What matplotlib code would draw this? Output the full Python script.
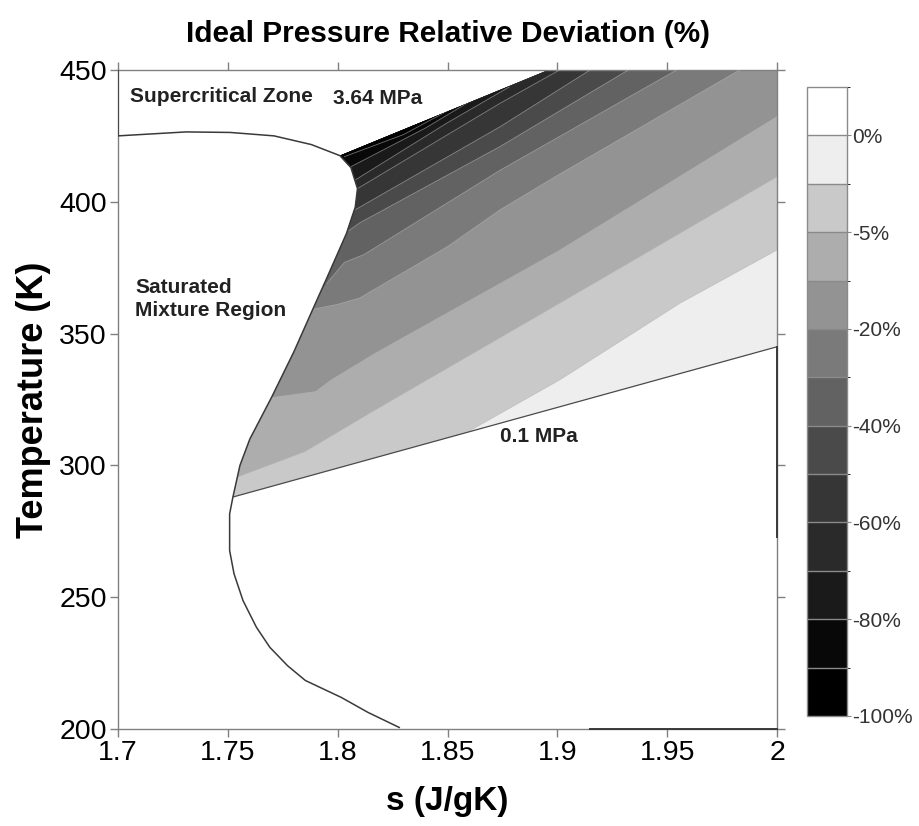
import numpy as np
import matplotlib
matplotlib.use('Agg')
import matplotlib.pyplot as plt
from matplotlib.colors import ListedColormap, BoundaryNorm
from matplotlib.patches import Polygon
from matplotlib.cm import ScalarMappable

# ----------------------------------------------------------------------
# data
# ----------------------------------------------------------------------
S_TICKS = [1.7, 1.75, 1.8, 1.85, 1.9, 1.95, 2.0]
S_TICK_LABELS = ['1.7', '1.75', '1.8', '1.85', '1.9', '1.95', '2']
T_TICKS = [200, 250, 300, 350, 400, 450]

# contour levels (%) and grey of each band, darkest first
LEVELS = [-100, -90, -80, -70, -60, -50, -40, -30, -20, -10, -5, -2, 0, 5]
BAND_COLORS = ['#000000', '#080808', '#1a1a1a', '#2a2a2a', '#363636',
               '#4a4a4a', '#626262', '#7a7a7a', '#939393', '#adadad',
               '#c9c9c9', '#eeeeee', '#ffffff']
CBAR_TICKS = [0, -5, -20, -40, -60, -80, -100]

# saturation dome (s, T)
DOME_S = [1.828, 1.8138, 1.8016, 1.7853, 1.7772, 1.7691, 1.763, 1.7569,
          1.7528, 1.7508, 1.7508, 1.7523, 1.7555, 1.760, 1.770, 1.780,
          1.788, 1.795, 1.804, 1.808, 1.809, 1.806, 1.801, 1.788, 1.771,
          1.751, 1.731, 1.700, 1.700]
DOME_T = [200.6, 206.3, 212.0, 218.4, 224.0, 231.0, 238.6, 248.7,
          258.9, 267.7, 281.6, 288.0, 300.0, 310.0, 326.0, 343.0,
          358.0, 371.0, 388.0, 398.0, 405.0, 413.0, 417.5, 421.7, 425.0,
          426.3, 426.5, 425.0, 450.0]

# isobars
P01_S = [1.7523, 2.0]            # 0.1 MPa
P01_T = [288.0, 345.0]
P364_S = [1.801, 1.8405, 1.896]  # 3.64 MPa
P364_T = [417.5, 431.0, 450.0]

# short edge segments drawn in the original
EDGE_R_S = [2.0, 2.0]
EDGE_R_T = [272.8, 345.0]
EDGE_B_S = [1.915, 2.0]
EDGE_B_T = [200.0, 200.0]

# contour lines (s, T), one per level from -2 % down to -90 %
LINE_M2 = [(1.860, 313.1), (1.901, 332.4), (1.956, 361.6), (2.0, 381.7)]
LINE_M5 = [(1.753, 295.2), (1.785, 305.2), (1.817, 321.0), (1.901, 361.5),
           (2.0, 409.5)]
LINE_M10 = [(1.768, 325.5), (1.790, 328.0), (1.797, 332.4), (1.817, 342.5),
            (1.901, 381.6), (2.0, 432.3)]
LINE_M20 = [(1.785, 358.6), (1.800, 361.1), (1.810, 363.5), (1.850, 383.0),
            (1.874, 397.0), (1.900, 410.0), (1.983, 450.0)]
LINE_M30 = [(1.795, 369.0), (1.803, 377.0), (1.812, 380.0), (1.874, 412.0),
            (1.9543, 450.0)]
LINE_M40 = [(1.805, 389.0), (1.810, 392.0), (1.874, 421.0), (1.9323, 450.0)]
LINE_M50 = [(1.808, 397.0), (1.874, 428.5), (1.9149, 450.0)]
LINE_M60 = [(1.808, 404.5), (1.874, 437.4), (1.901, 450.0)]
LINE_M70 = [(1.808, 408.3), (1.850, 430.0), (1.878, 443.5)]
LINE_M80 = [(1.806, 413.3), (1.840, 428.0), (1.862, 439.0)]
LINE_M90 = [(1.803, 417.1), (1.830, 425.5), (1.850, 434.5)]

CONTOUR_LINES = [LINE_M2, LINE_M5, LINE_M10, LINE_M20, LINE_M30, LINE_M40,
                 LINE_M50, LINE_M60, LINE_M70, LINE_M80, LINE_M90]
LINE_LEVELS = [-2, -5, -10, -20, -30, -40, -50, -60, -70, -80, -90]

# ----------------------------------------------------------------------
plt.rcParams['font.family'] = ['Liberation Sans', 'DejaVu Sans']

cmap = ListedColormap(BAND_COLORS)
norm = BoundaryNorm(LEVELS, cmap.N)

fig = plt.figure(figsize=(9.2, 8.26), dpi=100)
ax = fig.add_axes([0.1283, 0.1174, 0.7163, 0.7979])
cax = fig.add_axes([0.8772, 0.1332, 0.0435, 0.7615])

# superheated vapour region, bounded by dome, both isobars and the frame
i0 = DOME_T.index(288.0)
i1 = DOME_T.index(417.5)
region = list(zip(DOME_S[i0:i1 + 1], DOME_T[i0:i1 + 1]))
region += list(zip(P364_S[1:], P364_T[1:]))
region += [(2.0, 450.0), (P01_S[1], P01_T[1])]
clip = Polygon(region, closed=True, facecolor='none', edgecolor='none')
ax.add_patch(clip)


def band_color(lo, hi):
    return cmap(norm(0.5 * (lo + hi)))


base = Polygon(region, closed=True, facecolor=band_color(-2, 0),
               edgecolor='none', zorder=1)
ax.add_patch(base)

# each level: paint its darker (upper-left) side, lightest level first
for k, (line, lev) in enumerate(zip(CONTOUR_LINES, LINE_LEVELS)):
    j = LEVELS.index(lev)
    col = band_color(LEVELS[j - 1], lev)
    pts = list(line) + [(line[-1][0], 480.0), (1.6, 480.0), (1.6, 200.0)]
    p = Polygon(pts, closed=True, facecolor=col, edgecolor='none',
                zorder=2 + k * 0.01)
    ax.add_patch(p)
    p.set_clip_path(clip)
    ls, lt = zip(*line)
    ln, = ax.plot(ls, lt, color='#b4b4b4', lw=0.6, alpha=0.6, zorder=3)
    ln.set_clip_path(clip)

ax.plot(DOME_S, DOME_T, color='#3a3a3a', lw=1.1, zorder=5)
ax.plot(P01_S, P01_T, color='#4a4a4a', lw=0.9, zorder=5)
ax.plot(EDGE_R_S, EDGE_R_T, color='#3a3a3a', lw=1.4, zorder=5, clip_on=False)
ax.plot(EDGE_B_S, EDGE_B_T, color='#3a3a3a', lw=1.4, zorder=5, clip_on=False)

ax.set_xlim(1.7, 2.0)
ax.set_ylim(200, 450)
ax.set_xticks(S_TICKS)
ax.set_xticklabels(S_TICK_LABELS)
ax.set_yticks(T_TICKS)
ax.tick_params(direction='out', length=6, width=1, color='#808080',
               labelsize=20.5, top=True, right=True, pad=2)
for sp in ax.spines.values():
    sp.set_color('#808080')
    sp.set_linewidth(1.0)

ax.set_xlabel('s (J/gK)', fontsize=24, fontweight='bold', labelpad=14)
ax.set_ylabel('Temperature (K)', fontsize=26, fontweight='bold', labelpad=6)
ax.set_title('Ideal Pressure Relative Deviation (%)', fontsize=21.5,
             fontweight='bold', pad=20)

txt = dict(fontsize=15, fontweight='bold', color='#222222')
ax.text(1.7055, 439.8, 'Supercritical Zone', va='center', ha='left', **txt)
ax.text(1.7979, 439.0, '3.64 MPa', va='center', ha='left', **txt)
ax.text(1.7077, 363.1, 'Saturated\nMixture Region', va='center', ha='left',
        linespacing=1.25, **txt)
ax.text(1.8739, 310.8, '0.1 MPa', va='center', ha='left', **txt)

# colour bar
sm = ScalarMappable(norm=norm, cmap=cmap)
cb = fig.colorbar(sm, cax=cax, ticks=CBAR_TICKS, drawedges=True)
cb.ax.set_yticklabels([f'{v:g}%' for v in CBAR_TICKS])
cb.outline.set_edgecolor('#8a8a8a')
cb.outline.set_linewidth(1.0)
cb.dividers.set_color('#8a8a8a')
cb.dividers.set_linewidth(1.0)
cb.ax.tick_params(length=3, color='#8a8a8a', labelsize=15,
                  labelcolor='#333333', pad=1)

fig.savefig('out.png', dpi=100)
